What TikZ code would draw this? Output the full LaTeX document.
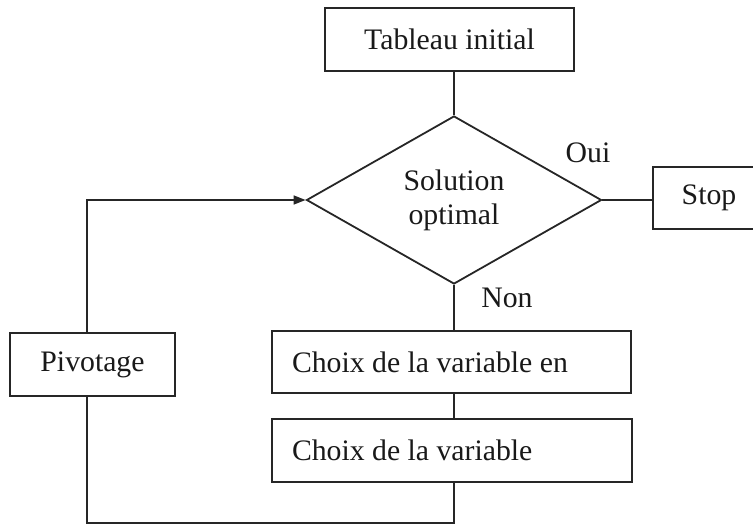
\documentclass[tikz,border=0pt]{standalone}
\usepackage{fontspec}
\setmainfont{Liberation Serif}
\usetikzlibrary{shapes.geometric,arrows.meta,calc}
\begin{document}
\begin{tikzpicture}[x=1pt,y=-1pt,
  every node/.style={font=\fontsize{29.75}{34}\selectfont, text=black!90},
  box/.style={draw=black!85, line width=2pt, rectangle, inner sep=0pt},
  wide/.style={box, inner xsep=20pt},
  link/.style={draw=black!85, line width=1.6pt},
  lbl/.style={inner sep=0pt}]
\clip (0,0) rectangle (753,525);
\node[box, minimum width=249pt, minimum height=63pt] (tab) at (449.5,39.5) {Tableau initial};
\node[draw=black!85, line width=1.8pt, diamond, aspect=1.756, minimum width=295pt, minimum height=168pt, inner sep=0pt, align=center] (d) at (454,200) {Solution\\optimal};
\node[box, minimum width=112pt, minimum height=62pt] (stop) at (709,198) {Stop};
\node[lbl] (oui) at (588,153) {Oui};
\node[lbl] (non) at (507,298) {Non};
\node[wide, minimum height=62pt] (b1) at (451.5,362) {\makebox[319pt][l]{Choix de la variable en}};
\node[wide, minimum height=63pt] (b2) at (452,450.5) {\makebox[320pt][l]{Choix de la variable}};
\node[box, minimum width=165pt, minimum height=63pt] (piv) at (92.5,364.5) {Pivotage};
\coordinate (tl) at (87,200);
\coordinate (bl) at (87,523);
\coordinate (br) at (454,523);
\draw[link] (d.north) -- (d.north |- tab.south);
\draw[link] (d.east) -- (d.east -| stop.west);
\draw[link] (d.south) -- (b1.north -| d.south);
\draw[link] (b1.south -| d.south) -- (b2.north -| d.south);
\draw[link] (b2.south -| d.south) -- (br) -- (bl) -- (bl |- piv.south);
\draw[link, -{Triangle[length=12pt,width=9pt]}] (tl |- piv.north) -- (tl |- d.west) -- (d.west);
\end{tikzpicture}
\end{document}
